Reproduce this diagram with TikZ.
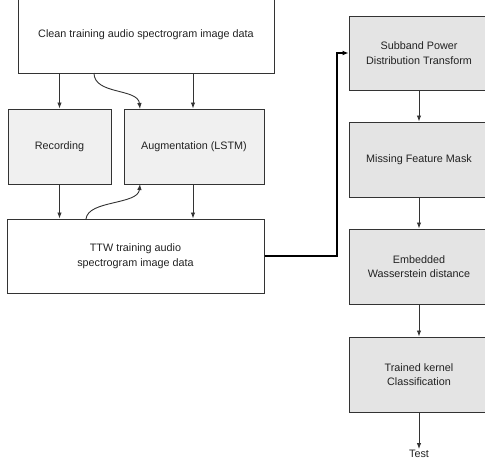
\documentclass[tikz,border=0pt]{standalone}
\usepackage{fontspec}
\setmainfont{Liberation Sans}
\usetikzlibrary{arrows.meta,calc}
\definecolor{ln}{HTML}{333333}
\definecolor{txt}{HTML}{222222}
\definecolor{fillL}{HTML}{F0F0F0}
\definecolor{fillR}{HTML}{E4E4E4}
\tikzset{
  box/.style={draw=ln, line width=1pt, rectangle, align=center, inner sep=0pt, text=txt, font=\fontsize{10.8}{14.5}\selectfont},
  boxL/.style={box, fill=fillL},
  boxR/.style={box, fill=fillR},
  arr/.style={draw=ln, line width=0.9pt, -{Latex[length=6pt,width=4.5pt]}},
  thickarr/.style={draw=black, line width=1.8pt, -{Latex[length=6pt,width=5pt]}}
}
\begin{document}
\begin{tikzpicture}[x=1pt,y=-1pt]
\useasboundingbox (0,0) rectangle (485,466);
\node[box, minimum width=256pt, minimum height=76pt] (clean) at (146,35) {Clean training audio spectrogram image data};
\node[boxL, minimum width=103pt, minimum height=75pt] (rec) at (59.5,146.5) {Recording};
\node[boxL, minimum width=140pt, minimum height=75pt] (aug) at (194,146.5) {Augmentation (LSTM)};
\node[box, minimum width=257pt, minimum height=74pt] (ttw) at (135.5,256) {TTW training audio\\spectrogram image data};
\node[boxR, minimum width=140pt, minimum height=74pt] (sub) at (419,53) {Subband Power\\Distribution Transform};
\node[boxR, minimum width=140pt, minimum height=75pt] (mask) at (419,159.5) {Missing Feature Mask};
\node[boxR, minimum width=140pt, minimum height=75pt] (emb) at (419,266.5) {Embedded\\Wasserstein distance};
\node[boxR, minimum width=140pt, minimum height=75pt] (trn) at (419,374.5) {Trained kernel\\Classification};
\node[text=txt, font=\fontsize{10.8}{12}\selectfont, inner sep=1pt] (test) at (419,454) {Test};
\coordinate (c1) at (94,73);
\coordinate (c2) at (140,109);
\coordinate (c3) at (86,219);
\coordinate (c4) at (140,184);
\coordinate (bend1) at (337,256);
\coordinate (bend2) at (337,53);
\draw[arr] (clean.south -| rec.north) -- (rec.north);
\draw[arr] (clean.south -| 193,0) -- (aug.north -| 193,0);
\draw[arr] (c1) .. controls (94,95) and (138,88) .. (c2);
\draw[arr] (rec.south) -- (ttw.north -| rec.south);
\draw[arr] (aug.south -| 193,0) -- (ttw.north -| 193,0);
\draw[arr] (c3) .. controls (88,200) and (138,205) .. (c4);
\draw[thickarr] (ttw.east) -- (bend1) -- (bend2) -- (sub.west);
\draw[arr] (sub) -- (mask);
\draw[arr] (mask) -- (emb);
\draw[arr] (emb) -- (trn);
\draw[arr] (trn) -- (test);
\end{tikzpicture}
\end{document}
